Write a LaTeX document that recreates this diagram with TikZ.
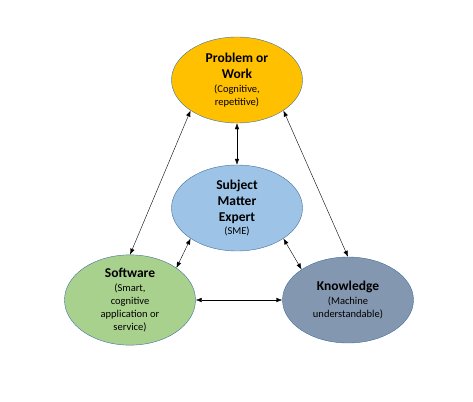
\documentclass[tikz,border=0pt]{standalone}
\usepackage{fontspec}
\setmainfont{Carlito}
\usetikzlibrary{positioning}
\usetikzlibrary{arrows.meta}
\usetikzlibrary{shapes.geometric}
\definecolor{gold}{RGB}{255,192,0}
\definecolor{skyblue}{RGB}{157,195,230}
\definecolor{leafgreen}{RGB}{169,209,142}
\definecolor{slateblue}{RGB}{132,151,176}
\definecolor{rimblue}{RGB}{65,113,156}
\newcommand{\subline}[1]{{\fontsize{10.5}{12}\selectfont #1}}

\begin{document}
\begin{tikzpicture}[x=1pt, y=-1pt,
    oval/.style={ellipse, draw=rimblue, thin, minimum width=131pt, minimum height=86pt,
        inner sep=0pt, align=center, font=\fontsize{13.5}{16}\selectfont},
    link/.style={{Latex[length=6pt,width=4.5pt]}-{Latex[length=6pt,width=4.5pt]}, black, thin}]
    \useasboundingbox (0,0) rectangle (473,401);

    \node[oval, fill=gold] (problem) at (237,80)
        {\textbf{Problem or}\\\textbf{Work}\\[-2pt]\subline{(Cognitive,}\\[-3pt]\subline{repetitive)}};
    \node[oval, fill=skyblue] (sme) at (237,208)
        {\textbf{Subject}\\\textbf{Matter}\\\textbf{Expert}\\[-3pt]\subline{(SME)}};
    \node[oval, fill=leafgreen] (software) at (130,300)
        {\textbf{Software}\\[-2pt]\subline{(Smart,}\\[-3pt]\subline{cognitive}\\[-3pt]\subline{application or}\\[-3pt]\subline{service)}};
    \node[oval, fill=slateblue] (knowledge) at (348,300)
        {\textbf{Knowledge}\\[-2pt]\subline{(Machine}\\[-3pt]\subline{understandable)}};

    \draw[link] (problem.south) -- (sme.north);
    \draw[link] (problem.south west) -- (software.north);
    \draw[link] (problem.south east) -- (knowledge.north);
    \draw[link] (sme.south west) -- (software.north east);
    \draw[link] (sme.south east) -- (knowledge.north west);
    \draw[link] (software.east) -- (knowledge.west);
\end{tikzpicture}
\end{document}
